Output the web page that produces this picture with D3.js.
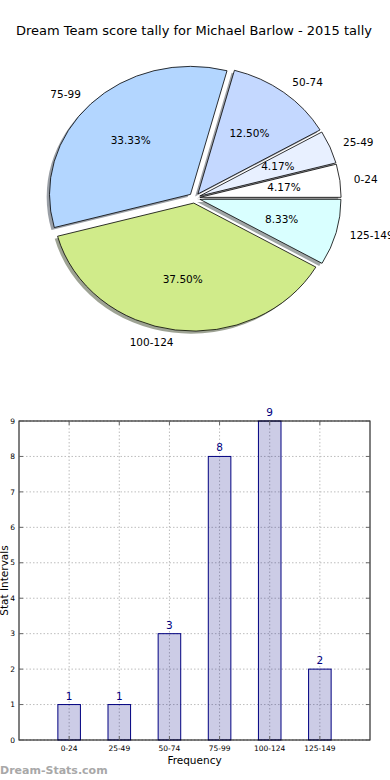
<!DOCTYPE html>
<html>
<head>
<meta charset="utf-8">
<script src="https://cdn.jsdelivr.net/npm/d3@7/dist/d3.min.js"></script>
<style>
  body { margin: 0; background: #fff; }
  svg { font-family: "DejaVu Sans", sans-serif; }
  .grid line { stroke: #bdbdbd; stroke-width: 1; stroke-dasharray: 1.5,2; }
</style>
</head>
<body>
<svg width="390" height="780"></svg>
<script>
var title = "Dream Team score tally for Michael Barlow - 2015 tally";
var categories = ["0-24", "25-49", "50-74", "75-99", "100-124", "125-149"];
var counts = [1, 1, 3, 8, 9, 2];
var sliceColors = ["#ffffff", "#e8f0ff", "#c4d8ff", "#b3d6ff", "#d0eb8a", "#d9ffff"];
var yTicks = [0, 1, 2, 3, 4, 5, 6, 7, 8, 9];

var svg = d3.select("svg");

svg.append("text")
    .attr("x", 194).attr("y", 30)
    .attr("dy", "0.35em")
    .attr("text-anchor", "middle")
    .attr("font-size", 13)
    .text(title);

// ---- pie (elliptical, like an unequal-aspect matplotlib pie) ----
var cx = 194.5, cy = 198, rx = 141, ry = 128, explode = 0.04;
var total = d3.sum(counts);
var pie = d3.pie().sort(null)
    .startAngle(Math.PI / 2)
    .endAngle(Math.PI / 2 - 2 * Math.PI);
var arcs = pie(counts);
var arc = d3.arc().innerRadius(0).outerRadius(1);

function mid(d) { return (d.startAngle + d.endAngle) / 2; }

var pg = svg.append("g")
    .attr("transform", "translate(" + cx + "," + cy + ") scale(" + rx + "," + ry + ")");

// shadows first
pg.selectAll(".shadow")
    .data(arcs)
    .enter().append("path")
    .attr("class", "shadow")
    .attr("transform", function (d) {
        var m = mid(d);
        return "translate(" + (Math.sin(m) * explode - 0.02) + "," + (-Math.cos(m) * explode + 0.02) + ")";
    })
    .attr("d", arc)
    .attr("fill", function (d, i) {
        var c = d3.rgb(sliceColors[i]);
        return d3.rgb(c.r * 0.3, c.g * 0.3, c.b * 0.3);
    })
    .attr("fill-opacity", 0.5);

pg.selectAll(".slice")
    .data(arcs)
    .enter().append("path")
    .attr("class", "slice")
    .attr("transform", function (d) {
        var m = mid(d);
        return "translate(" + (Math.sin(m) * explode) + "," + (-Math.cos(m) * explode) + ")";
    })
    .attr("d", arc)
    .attr("fill", function (d, i) { return sliceColors[i]; })
    .attr("stroke", "#000")
    .attr("stroke-width", 0.8)
    .attr("vector-effect", "non-scaling-stroke");

function piePos(d, dist) {
    var m = mid(d);
    return [cx + Math.sin(m) * (explode + dist) * rx, cy - Math.cos(m) * (explode + dist) * ry];
}

svg.selectAll(".plabel")
    .data(arcs)
    .enter().append("text")
    .attr("class", "plabel")
    .attr("x", function (d) { return piePos(d, 1.1)[0]; })
    .attr("y", function (d) { return piePos(d, 1.1)[1]; })
    .attr("dy", "0.35em")
    .attr("text-anchor", function (d) { return Math.sin(mid(d)) < 0 ? "end" : "start"; })
    .attr("font-size", 10.5)
    .text(function (d, i) { return categories[i]; });

svg.selectAll(".pct")
    .data(arcs)
    .enter().append("text")
    .attr("class", "pct")
    .attr("x", function (d) { return piePos(d, 0.6)[0]; })
    .attr("y", function (d) { return piePos(d, 0.6)[1]; })
    .attr("dy", "0.35em")
    .attr("text-anchor", "middle")
    .attr("font-size", 10.5)
    .text(function (d) { return d3.format(".2f")(d.data / total * 100) + "%"; });

// ---- bar chart ----
var pLeft = 19, pRight = 370, pTop = 421, pBottom = 740;
var x = d3.scalePoint().domain(categories).range([pLeft, pRight]).padding(1);
var y = d3.scaleLinear().domain([0, 9]).range([pBottom, pTop]);
var barW = x.step() * 0.45;

var grid = svg.append("g").attr("class", "grid");
grid.selectAll(".gx").data(categories).enter().append("line")
    .attr("x1", function (d) { return x(d); }).attr("x2", function (d) { return x(d); })
    .attr("y1", pTop).attr("y2", pBottom);
grid.selectAll(".gy").data(yTicks).enter().append("line")
    .attr("x1", pLeft).attr("x2", pRight)
    .attr("y1", function (d) { return y(d); }).attr("y2", function (d) { return y(d); });

svg.selectAll(".bar")
    .data(counts)
    .enter().append("rect")
    .attr("class", "bar")
    .attr("x", function (d, i) { return x(categories[i]) - barW / 2; })
    .attr("y", function (d) { return y(d); })
    .attr("width", barW)
    .attr("height", function (d) { return pBottom - y(d); })
    .attr("fill", "#000080")
    .attr("fill-opacity", 0.2)
    .attr("stroke", "#000080")
    .attr("stroke-width", 1);

svg.selectAll(".val")
    .data(counts)
    .enter().append("text")
    .attr("class", "val")
    .attr("x", function (d, i) { return x(categories[i]); })
    .attr("y", function (d) { return y(d) - 5; })
    .attr("text-anchor", "middle")
    .attr("font-size", 10.5)
    .attr("fill", "#000080")
    .text(function (d) { return d; });

// frame
svg.append("rect")
    .attr("x", pLeft).attr("y", pTop)
    .attr("width", pRight - pLeft).attr("height", pBottom - pTop)
    .attr("fill", "none").attr("stroke", "#000").attr("stroke-width", 1);

// inward ticks
var ticks = svg.append("g").attr("stroke", "#666").attr("stroke-width", 1);
yTicks.forEach(function (t) {
    ticks.append("line").attr("x1", pLeft).attr("x2", pLeft + 4).attr("y1", y(t)).attr("y2", y(t));
    ticks.append("line").attr("x1", pRight).attr("x2", pRight - 4).attr("y1", y(t)).attr("y2", y(t));
});
categories.forEach(function (c) {
    ticks.append("line").attr("x1", x(c)).attr("x2", x(c)).attr("y1", pBottom).attr("y2", pBottom - 4);
    ticks.append("line").attr("x1", x(c)).attr("x2", x(c)).attr("y1", pTop).attr("y2", pTop + 4);
});

svg.selectAll(".ytl")
    .data(yTicks)
    .enter().append("text")
    .attr("x", pLeft - 4)
    .attr("y", function (d) { return y(d); })
    .attr("dy", "0.35em")
    .attr("text-anchor", "end")
    .attr("font-size", 7.5)
    .text(function (d) { return d; });

svg.selectAll(".xtl")
    .data(categories)
    .enter().append("text")
    .attr("x", function (d) { return x(d); })
    .attr("y", pBottom + 8)
    .attr("dy", "0.35em")
    .attr("text-anchor", "middle")
    .attr("font-size", 7.5)
    .text(function (d) { return d; });

svg.append("text")
    .attr("x", (pLeft + pRight) / 2).attr("y", 760)
    .attr("dy", "0.35em")
    .attr("text-anchor", "middle")
    .attr("font-size", 10.5)
    .text("Frequency");

svg.append("text")
    .attr("transform", "translate(7.5," + ((pTop + pBottom) / 2) + ") rotate(-90)")
    .attr("text-anchor", "middle")
    .attr("font-size", 10.5)
    .text("Stat Intervals");

svg.append("text")
    .attr("x", 0).attr("y", 774)
    .attr("font-size", 11)
    .attr("font-weight", "bold")
    .attr("fill", "#a8a8a8")
    .text("Dream-Stats.com");
</script>
</body>
</html>
